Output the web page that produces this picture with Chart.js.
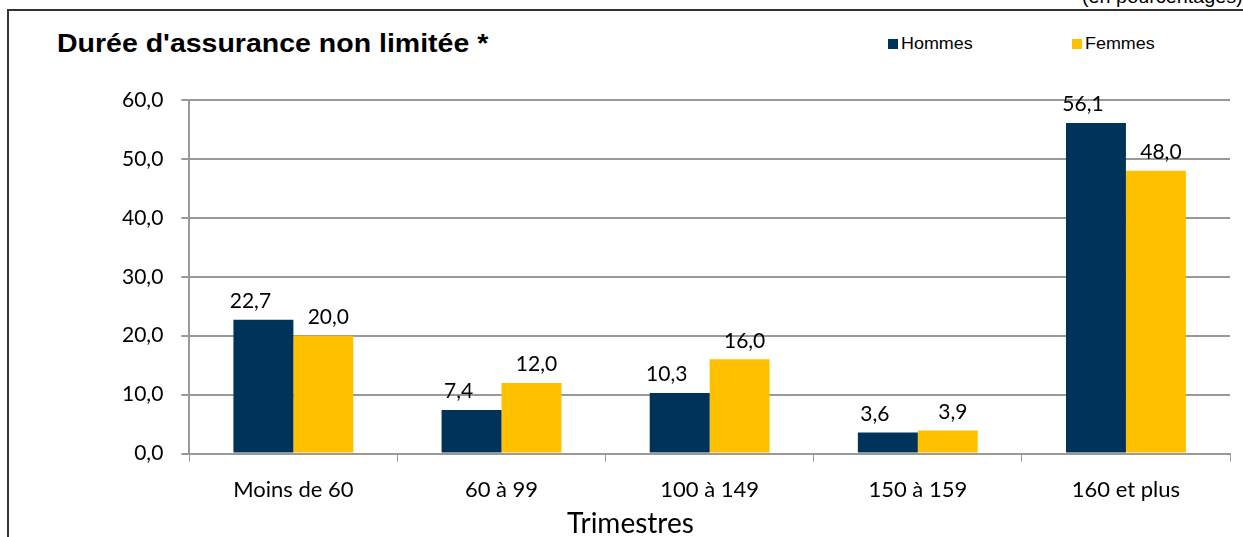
<!DOCTYPE html>
<html lang="fr">
<head>
    <meta charset="UTF-8">
    <title>Durée d'assurance non limitée</title>
    <script src="https://cdn.jsdelivr.net/npm/chart.js"></script>
    <style>
        html, body {
            margin: 0;
            padding: 0;
            background: #fff;
            overflow: hidden;
        }
        #frame {
            position: absolute;
            left: 7px;
            top: 9px;
            width: 1300px;
            height: 600px;
            border-left: 2px solid #333;
            border-top: 2px solid #333;
        }
        #unit {
            position: absolute;
            left: 1082px;
            top: -13px;
            font: 18px "Liberation Sans", Arial, sans-serif;
            color: #000;
            white-space: nowrap;
            transform: scaleX(1.1);
            transform-origin: left top;
        }
        #title {
            position: absolute;
            left: 57px;
            top: 29px;
            font: bold 25px "Liberation Sans", Arial, sans-serif;
            color: #000;
            white-space: nowrap;
            transform: scaleX(1.14);
            transform-origin: left top;
        }
        .legend-item {
            position: absolute;
            top: 35px;
            font: 16px "Liberation Sans", Arial, sans-serif;
            color: #000;
            white-space: nowrap;
        }
        .legend-item span {
            display: inline-block;
            width: 10px;
            height: 10px;
            margin-right: 3px;
        }
        .legend-item b {
            font-weight: normal;
            display: inline-block;
            transform: scaleX(1.12);
            transform-origin: left top;
        }
        #xtitle {
            position: absolute;
            left: 567px;
            top: 505px;
            font: 28px Lato, "Open Sans", sans-serif;
            color: #000;
            white-space: nowrap;
        }
        #wrap {
            position: absolute;
            left: 0;
            top: 0;
            width: 1243px;
            height: 540px;
        }
    </style>
</head>
<body>
    <div id="frame"></div>
    <div id="unit">(en pourcentages)</div>
    <div id="title">Durée d'assurance non limitée *</div>
    <div class="legend-item" style="left: 888px;"><span style="background:#003359"></span><b>Hommes</b></div>
    <div class="legend-item" style="left: 1072px;"><span style="background:#ffc000"></span><b>Femmes</b></div>
    <div id="wrap"><canvas id="chart"></canvas></div>
    <div id="xtitle">Trimestres</div>

    <script>
        const categories = ['Moins de 60', '60 à 99', '100 à 149', '150 à 159', '160 et plus'];
        const hommes = [22.7, 7.4, 10.3, 3.6, 56.1];
        const femmes = [20.0, 12.0, 16.0, 3.9, 48.0];
        const yTicks = [0, 10, 20, 30, 40, 50, 60];

        const fmt = v => v.toFixed(1).replace('.', ',');
        const FONT = 'Lato, "Open Sans", sans-serif';

        // valeurs au-dessus des barres
        const valueLabels = {
            id: 'valueLabels',
            afterDatasetsDraw(chart) {
                const ctx = chart.ctx;
                ctx.save();
                ctx.font = '21px ' + FONT;
                ctx.fillStyle = '#000';
                ctx.textAlign = 'center';
                ctx.textBaseline = 'bottom';
                chart.data.datasets.forEach((ds, i) => {
                    chart.getDatasetMeta(i).data.forEach((bar, j) => {
                        const dx = i === 0 ? -13 : 5;
                        ctx.fillText(fmt(ds.data[j]), bar.x + dx, bar.y - 8);
                    });
                });
                ctx.restore();
            }
        };

        const ctx = document.getElementById('chart').getContext('2d');
        const chart = new Chart(ctx, {
            type: 'bar',
            data: {
                labels: categories,
                datasets: [
                    { label: 'Hommes', data: hommes, backgroundColor: '#003359' },
                    { label: 'Femmes', data: femmes, backgroundColor: '#ffc000' }
                ]
            },
            options: {
                responsive: true,
                maintainAspectRatio: false,
                animation: false,
                layout: { padding: { left: 104, right: 13, top: 100, bottom: 22 } },
                datasets: {
                    bar: { categoryPercentage: 0.576, barPercentage: 1.0 }
                },
                plugins: {
                    legend: { display: false },
                    tooltip: { enabled: false }
                },
                scales: {
                    x: {
                        offset: true,
                        grid: {
                            display: true,
                            drawOnChartArea: false,
                            offset: true,
                            tickLength: 8,
                            color: '#999'
                        },
                        border: { color: '#999', width: 2 },
                        ticks: {
                            color: '#000',
                            padding: 15,
                            font: { family: FONT, size: 22 }
                        }
                    },
                    y: {
                        min: 0,
                        max: 60,
                        afterBuildTicks: axis => { axis.ticks = yTicks.map(v => ({ value: v })); },
                        grid: { color: '#999', lineWidth: 2, tickLength: 8 },
                        border: { color: '#999', width: 2 },
                        ticks: {
                            color: '#000',
                            padding: 18,
                            callback: v => fmt(v),
                            font: { family: FONT, size: 21 }
                        }
                    }
                }
            },
            plugins: [valueLabels]
        });
    </script>
</body>
</html>
